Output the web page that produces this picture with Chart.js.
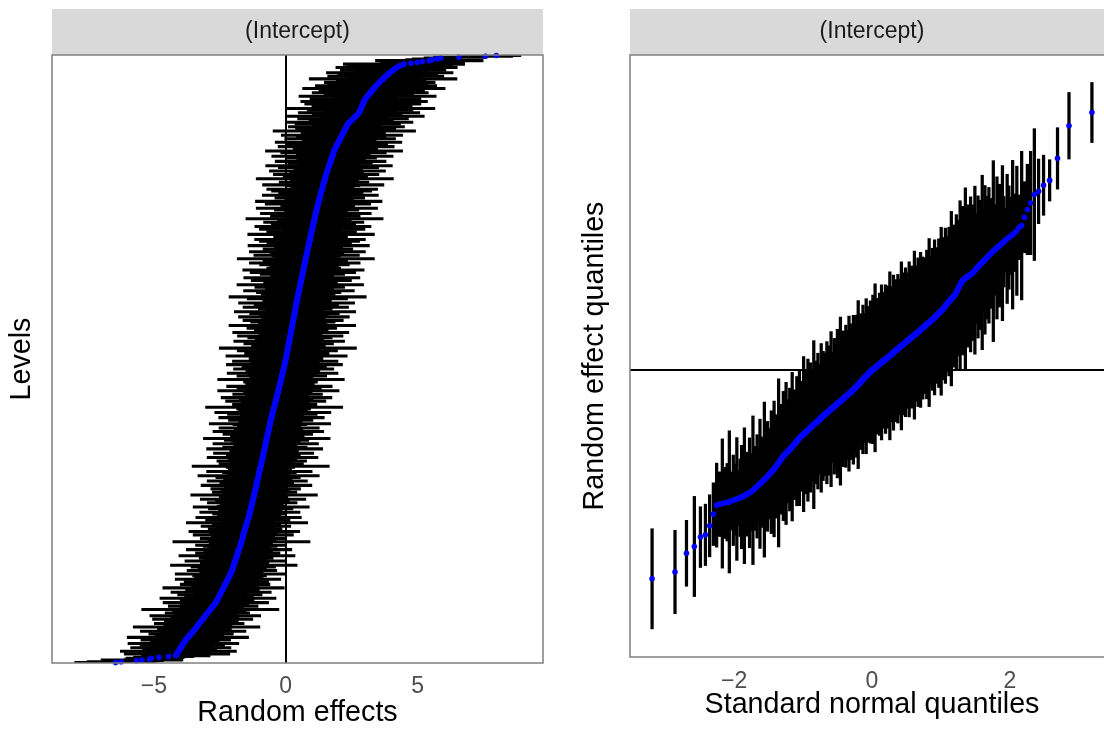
<!DOCTYPE html>
<html>
<head>
<meta charset="utf-8">
<script src="https://cdn.jsdelivr.net/npm/chart.js@4/dist/chart.umd.min.js"></script>
<style>
  html, body { margin: 0; padding: 0; background: #fff; overflow: hidden; }
  body { width: 1104px; height: 729px; position: relative; }
  canvas { position: absolute; top: 0; }
  #reChart { left: 0; }
  #qqChart { left: 560px; }
</style>
</head>
<body>
<canvas id="reChart" width="560" height="729"></canvas>
<canvas id="qqChart" width="560" height="729"></canvas>
<script>
// --- DATA ---
// sorted conditional modes of the (Intercept) random effect, one per level
const reEstimates = [
  -6.45,-6.24,-5.66,-5.45,-5.16,-5.09,-4.81,-4.45,-4.17,-4.14,-4.12,-4.10,-4.08,-4.07,-4.04,-4.02,-4.00,-3.98,-3.96,-3.94,-3.92,-3.90,-3.88,-3.85,-3.83,-3.81,-3.79,-3.77,
  -3.74,-3.71,-3.68,-3.65,-3.62,-3.59,-3.56,
  -3.53,-3.51,-3.48,-3.46,-3.43,-3.40,-3.38,-3.35,-3.33,-3.30,-3.28,-3.25,-3.22,-3.20,-3.17,-3.15,-3.12,-3.10,
  -3.07,-3.05,-3.02,-2.99,-2.97,-2.94,-2.91,-2.89,-2.86,-2.83,-2.81,-2.78,-2.75,-2.73,-2.70,-2.68,-2.65,
  -2.63,-2.62,-2.60,-2.58,-2.57,-2.55,-2.53,-2.52,-2.50,-2.48,-2.46,-2.45,-2.43,-2.41,-2.40,-2.38,-2.36,-2.35,-2.33,-2.31,-2.30,-2.28,-2.26,-2.25,-2.23,-2.21,-2.19,-2.18,-2.16,-2.14,-2.13,-2.11,-2.09,-2.08,-2.06,
  -2.05,-2.04,-2.03,-2.02,-2.01,-1.99,-1.98,-1.97,-1.96,-1.95,-1.94,-1.93,-1.92,-1.91,-1.90,-1.88,-1.87,-1.86,-1.85,-1.84,-1.83,-1.82,-1.81,-1.80,-1.79,-1.77,-1.76,-1.75,-1.74,-1.73,-1.72,-1.71,-1.70,-1.69,-1.68,
  -1.67,-1.66,-1.65,-1.64,-1.63,-1.62,-1.61,-1.61,-1.60,-1.59,-1.58,-1.57,-1.56,-1.55,-1.54,-1.53,-1.52,-1.51,-1.50,-1.49,-1.48,-1.47,-1.46,-1.45,-1.44,-1.43,-1.42,-1.41,-1.40,-1.39,-1.38,-1.37,-1.37,-1.36,-1.35,
  -1.34,-1.33,-1.33,-1.32,-1.31,-1.30,-1.29,-1.29,-1.28,-1.27,-1.26,-1.26,-1.25,-1.24,-1.23,-1.22,-1.22,-1.21,-1.20,-1.19,-1.18,-1.18,-1.17,-1.16,-1.15,-1.14,-1.14,-1.13,-1.12,-1.11,-1.11,-1.10,-1.09,-1.09,-1.08,
  -1.07,-1.06,-1.06,-1.05,-1.04,-1.03,-1.03,-1.02,-1.01,-1.00,-1.00,-0.99,-0.98,-0.97,-0.97,-0.96,-0.95,-0.94,-0.94,-0.93,-0.92,-0.91,-0.91,-0.90,-0.89,-0.88,-0.88,-0.87,-0.86,-0.85,-0.85,-0.84,-0.83,-0.83,-0.82,
  -0.81,-0.80,-0.80,-0.79,-0.78,-0.78,-0.77,-0.76,-0.75,-0.75,-0.74,-0.73,-0.73,-0.72,-0.71,-0.70,-0.70,-0.69,-0.68,-0.68,-0.67,-0.66,-0.65,-0.65,-0.64,-0.63,-0.63,-0.62,-0.61,-0.60,-0.60,-0.59,-0.58,-0.58,-0.57,
  -0.56,-0.55,-0.54,-0.54,-0.53,-0.52,-0.51,-0.50,-0.49,-0.48,-0.48,-0.47,-0.46,-0.45,-0.44,-0.43,-0.42,-0.42,-0.41,-0.40,-0.39,-0.38,-0.37,-0.36,-0.36,-0.35,-0.34,-0.33,-0.32,-0.31,-0.30,-0.30,-0.29,-0.28,-0.27,
  -0.26,-0.25,-0.25,-0.24,-0.23,-0.22,-0.22,-0.21,-0.20,-0.19,-0.18,-0.18,-0.17,-0.16,-0.15,-0.15,-0.14,-0.13,-0.12,-0.11,-0.11,-0.10,-0.09,-0.08,-0.08,-0.07,-0.06,-0.05,-0.05,-0.04,-0.03,-0.02,-0.02,-0.01,0.00,
  0.01,0.01,0.02,0.03,0.03,0.04,0.04,0.05,0.06,0.06,0.07,0.08,0.08,0.09,0.09,0.10,0.11,0.11,0.12,0.13,0.13,0.14,0.14,0.15,0.16,0.16,0.17,0.18,0.18,0.19,0.19,0.20,0.21,0.21,0.22,
  0.23,0.23,0.24,0.25,0.25,0.26,0.26,0.27,0.28,0.28,0.29,0.30,0.30,0.31,0.31,0.32,0.33,0.33,0.34,0.35,0.35,0.36,0.36,0.37,0.38,0.38,0.39,0.40,0.40,0.41,0.41,0.42,0.43,0.43,0.44,
  0.45,0.45,0.46,0.47,0.47,0.48,0.49,0.50,0.50,0.51,0.52,0.52,0.53,0.54,0.54,0.55,0.56,0.56,0.57,0.58,0.59,0.59,0.60,0.61,0.61,0.62,0.63,0.63,0.64,0.65,0.65,0.66,0.67,0.67,0.68,
  0.69,0.69,0.70,0.71,0.72,0.72,0.73,0.74,0.74,0.75,0.76,0.77,0.77,0.78,0.79,0.79,0.80,0.81,0.82,0.82,0.83,0.84,0.84,0.85,0.86,0.87,0.87,0.88,0.89,0.89,0.90,0.91,0.92,0.92,0.93,
  0.94,0.94,0.95,0.96,0.97,0.97,0.98,0.99,1.00,1.00,1.01,1.02,1.03,1.03,1.04,1.05,1.06,1.06,1.07,1.08,1.09,1.09,1.10,1.11,1.12,1.12,1.13,1.14,1.15,1.15,1.16,1.17,1.18,1.18,1.19,
  1.20,1.21,1.22,1.22,1.23,1.24,1.25,1.26,1.27,1.28,1.29,1.30,1.31,1.31,1.32,1.33,1.34,1.35,1.36,1.37,1.38,1.39,1.40,1.40,1.41,1.42,1.43,1.44,1.45,1.46,1.47,1.48,1.48,1.49,1.50,
  1.51,1.52,1.53,1.54,1.55,1.57,1.58,1.59,1.60,1.61,1.62,1.63,1.64,1.65,1.67,1.68,1.69,1.70,1.71,1.72,1.73,1.74,1.75,1.77,1.78,1.79,1.80,1.81,1.82,1.83,
  1.84,1.86,1.88,1.89,1.91,1.93,1.94,1.96,1.98,2.00,2.01,2.03,2.05,2.06,2.08,2.10,2.11,2.13,2.15,2.17,2.18,2.20,2.22,2.23,2.25,2.27,2.28,2.30,2.32,2.33,2.35,
  2.38,2.42,2.45,2.48,2.52,2.55,2.58,2.61,2.65,2.68,2.71,2.75,2.78,
  2.79,2.81,2.82,2.84,2.85,2.87,2.88,2.89,2.91,2.92,2.94,2.95,2.97,2.98,
  2.99,3.02,3.04,3.07,3.10,3.12,3.15,3.18,3.20,3.23,3.26,3.29,3.31,3.34,3.37,3.39,3.42,
  3.45,3.49,3.52,3.56,3.59,3.62,3.66,3.69,3.73,3.76,3.79,3.83,3.86,3.90,
  3.94,3.98,4.03,4.07,4.11,4.16,4.20,
  4.26,4.32,4.43,4.48,4.74,4.98,5.18,5.44,5.54,5.73,5.88,6.56,7.57,7.98
];

// half-width of each level's interval, same order as reEstimates
const ciHalfWidth = [
  1.55,1.29,1.02,1.55,0.94,0.95,0.96,0.97,1.3,1.0,2.0,1.1,1.2,2.2,0.9,1.4,1.1,1.9,0.85,1.2,1.6,1.0,2.1,1.1,1.3,
  0.9,1.7,1.2,0.85,2.3,1.1,1.3,1.0,1.6,1.2,0.8,2.0,1.1,1.4,0.9,1.2,2.4,1.0,1.3,1.1,1.7,0.85,1.2,1.4,1.0,
  1.9,1.1,0.9,1.3,2.1,1.2,1.0,1.6,0.85,1.1,1.4,2.6,1.0,1.2,0.9,1.7,1.1,1.3,0.8,2.0,1.2,1.0,1.4,1.1,2.2,
  0.9,1.3,1.1,1.6,1.0,0.85,1.9,1.2,1.1,1.4,0.9,2.3,1.2,1.0,1.3,1.7,0.85,1.1,1.6,1.2,0.9,2.0,1.1,1.3,1.0,
  1.4,1.1,2.1,0.9,1.2,1.0,1.7,1.3,0.8,1.1,1.6,1.2,2.4,1.0,0.9,1.3,1.1,1.9,1.2,0.85,1.4,1.0,1.1,2.2,1.2,
  0.9,1.6,1.1,1.3,1.0,2.0,1.2,0.85,1.1,1.4,1.7,0.9,1.2,1.1,2.6,1.0,1.3,0.9,1.6,1.1,1.2,0.8,1.9,1.0,1.3,
  1.1,2.1,0.9,1.2,1.4,1.0,1.1,1.7,0.85,1.3,1.2,2.3,1.0,0.9,1.6,1.1,1.3,2.0,1.0,1.2,0.85,1.4,1.1,1.9,0.9,
  1.2,1.0,1.6,1.1,2.2,1.3,0.9,1.2,1.1,1.7,0.8,1.4,1.0,2.0,1.2,1.1,1.3,0.9,2.4,1.0,1.2,1.6,1.1,0.85,1.3,
  1.7,1.0,1.2,1.1,2.1,0.9,1.4,1.2,1.0,1.9,1.1,0.85,1.3,1.6,1.0,2.3,1.2,0.9,1.1,1.4,2.0,1.0,1.2,1.1,0.9,
  1.3,2.6,1.1,1.0,1.6,1.2,0.85,1.7,1.1,1.3,0.9,2.1,1.2,1.0,1.4,1.1,1.9,0.8,1.2,1.3,1.0,2.2,1.1,1.6,0.9,
  1.2,1.1,2.0,1.0,1.3,0.9,1.6,1.2,2.4,1.1,0.85,1.4,1.0,1.7,1.2,1.1,2.1,0.9,1.3,1.0,1.9,1.2,0.85,1.1,1.4,
  2.3,1.0,1.2,0.9,1.6,1.1,1.3,2.0,1.0,1.2,0.8,1.7,1.1,2.2,0.9,1.3,1.2,1.4,1.0,2.6,1.1,0.85,1.6,1.2,1.0,
  1.3,1.9,0.9,1.1,1.4,2.1,1.0,1.2,1.1,1.7,0.85,1.3,1.0,2.3,1.2,0.9,1.6,1.1,2.0,1.0,1.2,1.3,0.8,1.4,1.1,
  1.0,2.4,1.2,1.1,0.9,1.7,1.3,1.0,2.1,1.1,1.4,0.85,1.2,1.9,1.0,1.1,1.6,0.9,2.2,1.2,1.3,1.0,2.0,1.1,0.85,
  1.4,1.1,1.2,2.3,1.0,0.9,1.6,1.3,1.1,1.9,1.2,0.85,2.6,1.0,1.1,1.4,0.9,1.7,1.2,1.0,2.1,1.1,1.3,0.8,1.6,
  1.1,2.0,1.0,1.2,0.9,2.2,1.3,1.1,1.4,1.0,1.7,0.85,1.2,2.4,1.1,0.9,1.3,1.6,1.0,1.9,1.2,1.1,0.85,2.1,1.0,
  1.3,1.2,1.7,0.9,2.3,1.1,1.0,1.4,1.2,2.0,0.8,1.1,1.6,1.0,2.2,1.2,0.9,1.3,1.1,1.9,1.0,2.6,1.2,0.85,1.4,
  1.1,1.6,0.9,2.1,1.2,1.0,1.3,1.7,1.1,0.85,2.4,1.0,1.4,1.2,0.9,1.9,1.1,1.3,2.2,1.0,1.2,0.85,1.6,1.1,2.0,
  0.9,1.2,2.3,1.0,1.4,1.1,1.3,0.8,1.7,1.2,2.1,1.0,1.1,1.6,0.9,2.6,1.2,1.0,1.3,2.0,1.1,0.9,1.4,2.2,1.2,
  1.0,1.7,1.1,0.85,1.3,2.3,1.2,0.9,1.6,1.1,1.9,1.0,2.1,1.2,0.85,1.4,1.1,1.3,2.4,1.0,1.2,1.7,0.9,1.1,2.0,
  1.3,1.0,2.2,1.2,0.9,1.6,1.1,1.9,0.85,1.4,1.2,2.6,1.0,1.1,1.7,0.9,1.3,2.1,1.1,1.2,0.8,1.6,1.0,2.3,1.2,
  1.1,1.4,0.9,2.0,1.2,1.0,2.4,1.1,1.3,0.85,1.7,1.2,1.0,2.2,1.1,1.6,0.9,1.3,1.9,1.0,2.1,1.2,1.1,0.85,1.4,
  2.3,1.0,1.2,1.7,0.9,1.3,1.1,2.6,1.0,1.6,1.2,0.85,2.0,1.1,1.4,0.9,2.2,1.2,1.0,1.3,1.9,1.1,2.4,0.9,1.2,
  1.6,1.1,2.1,1.0,1.3,0.85,1.7,1.2,2.3,1.1,0.9,1.4,2.0,1.0,2.6,1.2,1.1,1.6,0.9,2.2,1.3,1.0,1.9,1.2,2.4,
  1.1,1.4,0.9,2.1,1.2,1.7,1.0,2.3,1.3,0.85,1.6,1.1,2.7,1.0,1.2,1.9,0.9,2.2,1.1,1.3,2.0,1.0,2.4,1.2,1.6,
  1.0,2.1,1.3,1.1,2.6,0.9,1.7,1.2,2.3,1.0,1.4,2.0,1.1,2.8,0.9,1.3,1.9,1.2,2.2,1.0,1.6,2.4,1.1,1.4,2.1,
  1.2,1.0,2.6,1.3,1.7,1.1,2.2,0.9,2.0,1.2,1.4,2.7,1.0,1.6,2.3,1.1,1.9,1.3,2.1,1.2,1.7,1.0,2.8,1.4,1.1,
  2.2,1.3,1.9,1.1,2.4,1.4,1.0,2.0,1.6,1.2,2.3,1.2,2.0,1.0,2.3,1.1,1.4,1.6,2.04,1.0,0.93,0.64,0.95,1.03,0.93
];

const reTickValues = [-5, 0, 5];
const qqTickValues = [-2, 0, 2];
const refLineValue = [0];

// --- HELPERS ---
const FONT = '"Liberation Sans", Arial, Helvetica, sans-serif';
Chart.defaults.font.family = FONT;
Chart.defaults.animation = false;

const minusFmt = v => (v < 0 ? '\u2212' + Math.abs(v) : String(v));

// standard normal quantile (Acklam) for the theoretical QQ positions
function qnorm(p) {
  const a = [-39.69683028665376, 220.9460984245205, -275.9285104469687, 138.3577518672690, -30.66479806614716, 2.506628277459239];
  const b = [-54.47609879822406, 161.5858368580409, -155.6989798598866, 66.80131188771972, -13.28068155288572];
  const c = [-0.007784894002430293, -0.3223964580411365, -2.400758277161838, -2.549671348386932, 4.374664141464968, 2.938163982698783];
  const d = [0.007784695709041462, 0.3224671290700398, 2.445134137142996, 3.754408661907416];
  const plow = 0.02425;
  if (p < plow) {
    const q = Math.sqrt(-2 * Math.log(p));
    return (((((c[0]*q+c[1])*q+c[2])*q+c[3])*q+c[4])*q+c[5]) / ((((d[0]*q+d[1])*q+d[2])*q+d[3])*q+1);
  }
  if (p > 1 - plow) {
    const q = Math.sqrt(-2 * Math.log(1 - p));
    return -(((((c[0]*q+c[1])*q+c[2])*q+c[3])*q+c[4])*q+c[5]) / ((((d[0]*q+d[1])*q+d[2])*q+d[3])*q+1);
  }
  const q = p - 0.5, r = q * q;
  return (((((a[0]*r+a[1])*r+a[2])*r+a[3])*r+a[4])*r+a[5])*q / (((((b[0]*r+b[1])*r+b[2])*r+b[3])*r+b[4])*r+1);
}

const n = reEstimates.length;
const levelLabels = reEstimates.map((_, i) => String(i + 1));
const intervals = reEstimates.map((v, i) => [v - ciHalfWidth[i], v + ciHalfWidth[i]]);
const theoQ = reEstimates.map((_, i) => qnorm((i + 0.5) / n));

// grey strip with the facet label + panel frame
const panelDecor = {
  id: 'panelDecor',
  beforeDraw(chart, args, opts) {
    const { ctx, chartArea: a } = chart;
    ctx.save();
    ctx.fillStyle = '#d9d9d9';
    ctx.fillRect(a.left, 9, a.right - a.left, a.top - 9);
    ctx.fillStyle = '#1a1a1a';
    ctx.font = '23px ' + FONT;
    ctx.textAlign = 'center';
    ctx.textBaseline = 'middle';
    ctx.fillText(opts.label, (a.left + a.right) / 2, (9 + a.top) / 2);
    ctx.restore();
  },
  afterDraw(chart) {
    const { ctx, chartArea: a } = chart;
    ctx.save();
    ctx.strokeStyle = '#7f7f7f';
    ctx.lineWidth = 1.5;
    ctx.strokeRect(a.left, a.top, a.right - a.left, a.bottom - a.top);
    ctx.restore();
  }
};

const zeroGrid = {
  drawTicks: false,
  color: c => (c.tick && c.tick.value === 0 ? '#000000' : 'rgba(0,0,0,0)'),
  lineWidth: c => (c.tick && c.tick.value === 0 ? 2 : 0)
};

// --- 1. CATERPILLAR PLOT ---
new Chart(document.getElementById('reChart'), {
  type: 'bar',
  data: {
    labels: levelLabels,
    datasets: [
      {
        type: 'scatter',
        data: reEstimates.map((v, i) => ({ x: v, y: i })),
        backgroundColor: '#0000ff',
        borderWidth: 0,
        pointRadius: 2.8,
        order: 0
      },
      {
        type: 'bar',
        data: intervals,
        backgroundColor: '#000000',
        borderWidth: 0,
        barThickness: 2.4,
        borderSkipped: false,
        order: 1
      }
    ]
  },
  options: {
    responsive: false,
    indexAxis: 'y',
    layout: { padding: { top: 55, right: 17, bottom: 0, left: 0 } },
    plugins: { legend: { display: false }, tooltip: { enabled: false }, panelDecor: { label: '(Intercept)' } },
    scales: {
      x: {
        type: 'linear', min: -8.86, max: 9.75,
        afterBuildTicks: s => { s.ticks = reTickValues.map(v => ({ value: v })); },
        ticks: { callback: minusFmt, color: '#4d4d4d', font: { size: 23 }, padding: 10, maxRotation: 0, autoSkip: false },
        grid: zeroGrid,
        border: { display: false },
        title: { display: true, text: 'Random effects', color: '#000000', font: { size: 28.7, lineHeight: 0.9 }, padding: { top: 0, bottom: 3 } },
        afterFit: s => { s.height = 66; }
      },
      y: {
        type: 'category', reverse: true, offset: true,
        ticks: { display: false },
        grid: { display: false },
        border: { display: false },
        title: { display: true, text: 'Levels', color: '#000000', font: { size: 28.7, lineHeight: 0.9 }, padding: { top: 9, bottom: 0 } },
        afterFit: s => { s.width = 52; }
      }
    }
  },
  plugins: [panelDecor]
});

// --- 2. QQ PLOT ---
new Chart(document.getElementById('qqChart'), {
  type: 'bar',
  data: {
    datasets: [
      {
        type: 'scatter',
        data: reEstimates.map((v, i) => ({ x: theoQ[i], y: v })),
        backgroundColor: '#0000ff',
        borderWidth: 0,
        pointRadius: 2.8,
        order: 0
      },
      {
        type: 'bar',
        data: intervals.map((iv, i) => ({ x: theoQ[i], y: iv })),
        backgroundColor: '#000000',
        borderWidth: 0,
        barThickness: 2.6,
        borderSkipped: false,
        grouped: false,
        order: 1
      }
    ]
  },
  options: {
    responsive: false,
    layout: { padding: { top: 55, right: 6, bottom: 0, left: 0 } },
    plugins: { legend: { display: false }, tooltip: { enabled: false }, panelDecor: { label: '(Intercept)' } },
    scales: {
      x: {
        type: 'linear', offset: false, min: -3.509, max: 3.509,
        afterBuildTicks: s => { s.ticks = qqTickValues.map(v => ({ value: v })); },
        ticks: { callback: minusFmt, color: '#4d4d4d', font: { size: 23 }, padding: 11, maxRotation: 0, autoSkip: false },
        grid: { display: false, drawTicks: false },
        border: { display: false },
        title: { display: true, text: 'Standard normal quantiles', color: '#000000', font: { size: 28.7, lineHeight: 0.9 }, padding: { top: 0, bottom: 11 } },
        afterFit: s => { s.height = 72; }
      },
      y: {
        type: 'linear', min: -8.87, max: 9.76,
        afterBuildTicks: s => { s.ticks = refLineValue.map(v => ({ value: v })); },
        ticks: { display: false },
        grid: zeroGrid,
        border: { display: false },
        title: { display: true, text: 'Random effect quantiles', color: '#000000', font: { size: 28.7, lineHeight: 0.9 }, padding: { top: 22, bottom: 0 } },
        afterFit: s => { s.width = 70; }
      }
    }
  },
  plugins: [panelDecor]
});
</script>
</body>
</html>
